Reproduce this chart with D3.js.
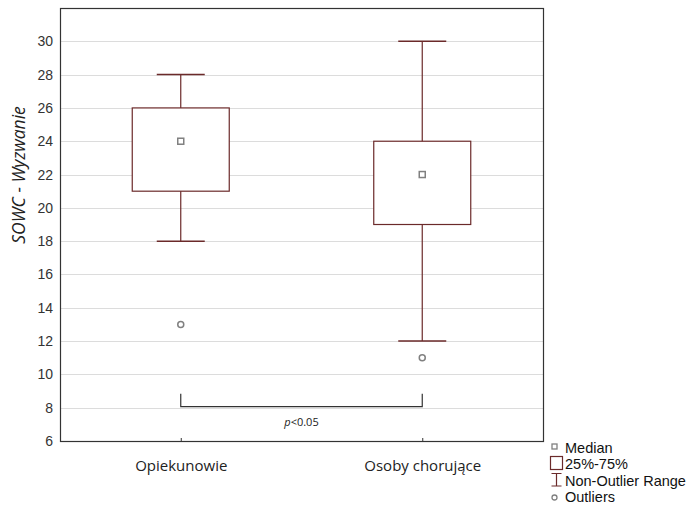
<!DOCTYPE html>
<html>
<head>
<meta charset="utf-8">
<script src="https://cdn.jsdelivr.net/npm/d3@7"></script>
<style>
  body { margin: 0; background: #fff; }
  svg { display: block; }
</style>
</head>
<body>
<div id="vis"></div>
<script>

// dane
var groups = ['Opiekunowie', 'Osoby chorujące'];
var medians = [24, 22];
var q1 = [21, 19];
var q3 = [26, 24];
var whiskLo = [18, 12];
var whiskHi = [28, 30];
var outliers = [[13], [11]];
var yTicks = [6, 8, 10, 12, 14, 16, 18, 20, 22, 24, 26, 28, 30];
var pLabel = '<0.05';
var bracketValue = 8;

var width = 686, height = 507;
var plot = { left: 60, right: 543, top: 8, bottom: 441 };

var boxColor = '#6b2a2a';
var markColor = '#808080';

var svg = d3.select('#vis').append('svg')
  .attr('width', width)
  .attr('height', height);

var y = d3.scaleLinear().domain([6, 32]).range([plot.bottom, plot.top]);
var x = d3.scalePoint().domain(groups).range([plot.left, plot.right]).padding(0.5);

// linie siatki
svg.append('g')
  .selectAll('line')
  .data(yTicks.slice(1))
  .enter().append('line')
  .attr('x1', plot.left).attr('x2', plot.right)
  .attr('y1', function (d) { return Math.round(y(d)) + 0.5; })
  .attr('y2', function (d) { return Math.round(y(d)) + 0.5; })
  .attr('stroke', '#dcdcdc')
  .attr('stroke-width', 1);

// os Y
var yAxis = svg.append('g')
  .attr('transform', 'translate(' + plot.left + ',0)')
  .call(d3.axisLeft(y).tickValues(yTicks).tickSize(0).tickPadding(7));
yAxis.select('.domain').remove();
yAxis.selectAll('text')
  .attr('font-family', 'Liberation Sans, Arial, sans-serif')
  .attr('font-size', 14)
  .attr('fill', '#333');

// os X
var xAxis = svg.append('g')
  .attr('transform', 'translate(0,' + plot.bottom + ')')
  .call(d3.axisBottom(x).tickSize(-3).tickPadding(19));
xAxis.select('.domain').remove();
xAxis.selectAll('line').attr('stroke', '#333');
xAxis.selectAll('text')
  .attr('font-family', 'Open Sans, sans-serif')
  .attr('font-size', 15)
  .attr('fill', '#222');

// ramka
svg.append('rect')
  .attr('x', plot.left + 0.5).attr('y', plot.top + 0.5)
  .attr('width', plot.right - plot.left).attr('height', plot.bottom - plot.top)
  .attr('fill', 'none')
  .attr('stroke', '#333')
  .attr('stroke-width', 1.2);

var boxW = 97, capW = 48;

var boxes = svg.selectAll('.box')
  .data(groups)
  .enter().append('g')
  .attr('class', 'box');

// wąsy
boxes.append('line')
  .attr('x1', function (d) { return x(d); }).attr('x2', function (d) { return x(d); })
  .attr('y1', function (d, i) { return y(whiskHi[i]); })
  .attr('y2', function (d, i) { return y(whiskLo[i]); })
  .attr('stroke', boxColor).attr('stroke-width', 1.2);

boxes.selectAll('.cap')
  .data(function (d, i) { return [{ g: d, v: whiskHi[i] }, { g: d, v: whiskLo[i] }]; })
  .enter().append('line')
  .attr('class', 'cap')
  .attr('x1', function (d) { return x(d.g) - capW / 2; })
  .attr('x2', function (d) { return x(d.g) + capW / 2; })
  .attr('y1', function (d) { return y(d.v); })
  .attr('y2', function (d) { return y(d.v); })
  .attr('stroke', boxColor).attr('stroke-width', 1.5);

// pudełka
boxes.append('rect')
  .attr('x', function (d) { return x(d) - boxW / 2; })
  .attr('y', function (d, i) { return y(q3[i]); })
  .attr('width', boxW)
  .attr('height', function (d, i) { return y(q1[i]) - y(q3[i]); })
  .attr('fill', '#fff')
  .attr('stroke', boxColor).attr('stroke-width', 1.2);

// mediana
boxes.append('rect')
  .attr('x', function (d) { return x(d) - 3; })
  .attr('y', function (d, i) { return y(medians[i]) - 3; })
  .attr('width', 6).attr('height', 6)
  .attr('fill', '#fff')
  .attr('stroke', markColor).attr('stroke-width', 1.5);

// obserwacje odstające
boxes.selectAll('.outlier')
  .data(function (d, i) { return outliers[i].map(function (v) { return { g: d, v: v }; }); })
  .enter().append('circle')
  .attr('class', 'outlier')
  .attr('cx', function (d) { return x(d.g); })
  .attr('cy', function (d) { return y(d.v); })
  .attr('r', 3)
  .attr('fill', '#fff')
  .attr('stroke', markColor).attr('stroke-width', 1.5);

// klamra istotności
var by = y(bracketValue) - 1;
svg.append('path')
  .attr('d', 'M' + x(groups[0]) + ',' + (by - 13) + 'V' + by + 'H' + x(groups[1]) + 'V' + (by - 13))
  .attr('fill', 'none')
  .attr('stroke', '#333')
  .attr('stroke-width', 1.2);

var pt = svg.append('text')
  .attr('x', (x(groups[0]) + x(groups[1])) / 2)
  .attr('y', by + 19)
  .attr('text-anchor', 'middle')
  .attr('font-family', 'Open Sans, sans-serif')
  .attr('font-size', 11)
  .attr('fill', '#222');
pt.append('tspan').attr('font-style', 'italic').text('p');
pt.append('tspan').text(pLabel);

// etykieta osi Y
svg.append('text')
  .attr('transform', 'translate(25,175) rotate(-90)')
  .attr('text-anchor', 'middle')
  .attr('font-family', 'Open Sans, sans-serif')
  .attr('font-style', 'italic')
  .attr('font-size', 17.5)
  .attr('fill', '#222')
  .text('SOWC - Wyzwanie');

// legenda
var legend = svg.append('g')
  .attr('transform', 'translate(548,0)');
var legendFont = 'Liberation Sans, Arial, sans-serif';

legend.append('rect')
  .attr('x', 4).attr('y', 444).attr('width', 5).attr('height', 5)
  .attr('fill', '#fff').attr('stroke', markColor).attr('stroke-width', 1.3);
legend.append('rect')
  .attr('x', 2.5).attr('y', 456.5).attr('width', 12).attr('height', 13)
  .attr('fill', '#fff').attr('stroke', boxColor).attr('stroke-width', 1.2);
legend.append('path')
  .attr('d', 'M3.5,473.5H13.5M8.5,473.5V486M3.5,486H13.5')
  .attr('fill', 'none').attr('stroke', boxColor).attr('stroke-width', 1.2);
legend.append('circle')
  .attr('cx', 6.5).attr('cy', 497.5).attr('r', 2.5)
  .attr('fill', '#fff').attr('stroke', markColor).attr('stroke-width', 1.3);

var legendItems = ['Median', '25%-75%', 'Non-Outlier Range', 'Outliers'];
legend.selectAll('.leg')
  .data(legendItems)
  .enter().append('text')
  .attr('class', 'leg')
  .attr('x', 17)
  .attr('y', function (d, i) { return 453 + i * 16.3; })
  .attr('font-family', legendFont)
  .attr('font-size', 14.5)
  .attr('fill', '#111')
  .text(function (d) { return d; });

</script>
</body>
</html>
